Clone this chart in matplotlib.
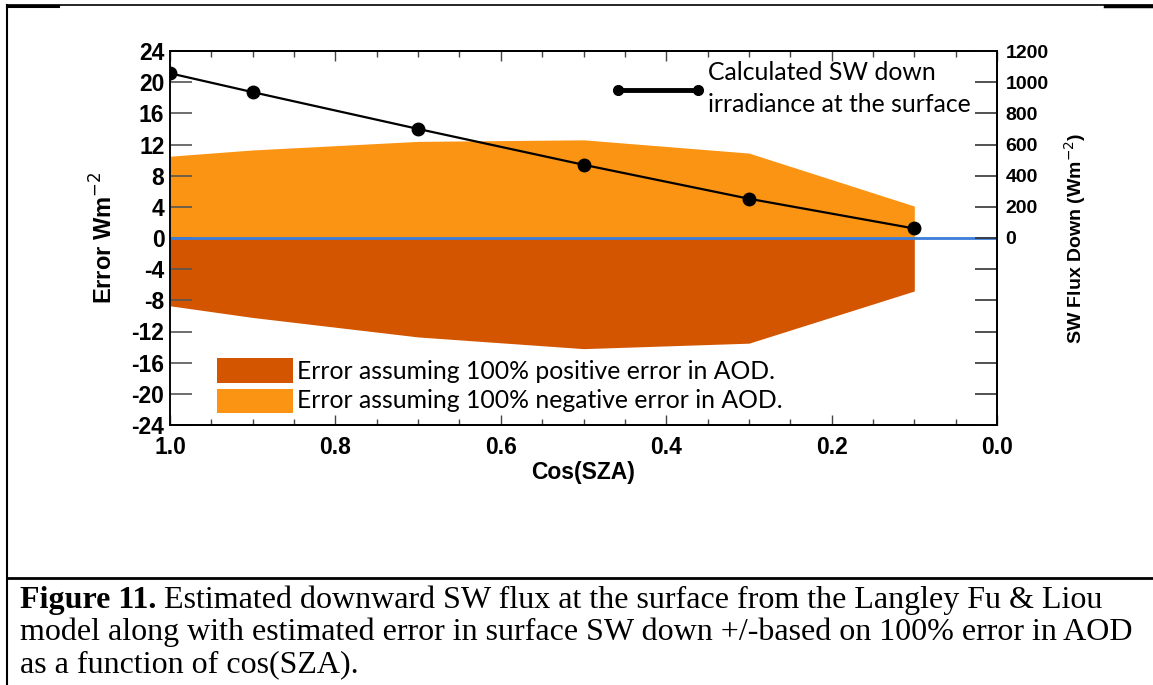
import matplotlib
matplotlib.use("Agg")
import matplotlib.pyplot as plt
from matplotlib.lines import Line2D
from matplotlib.patches import Rectangle
from matplotlib.ticker import MultipleLocator, FixedLocator

# ---- data -------------------------------------------------------------
cos_sza = [1.0, 0.9, 0.7, 0.5, 0.3, 0.1]
sw_down = [1057, 936, 700, 470, 252, 61]          # W m-2
err_neg_aod = [10.5, 11.3, 12.4, 12.6, 10.9, 4.1]  # error, -100% AOD
err_pos_aod = [-8.7, -10.2, -12.7, -14.2, -13.5, -6.8]  # error, +100% AOD

left_ticks = list(range(-24, 25, 4))
right_ticks = list(range(-1200, 1201, 200))

label_pos = "Error assuming 100% positive error in AOD."
label_neg = "Error assuming 100% negative error in AOD."
label_line = "Calculated SW down\nirradiance at the surface"
caption_bold = "Figure 11."
caption_rest = [
    " Estimated downward SW flux at the surface from the Langley Fu & Liou",
    "model along with estimated error in surface SW down +/-based on 100% error in AOD",
    "as a function of cos(SZA).",
]

ORANGE = "#FC9413"
DARK = "#D45500"
BLUE = "#3C7DD9"

W, H = 1153, 685
fig = plt.figure(figsize=(W / 100, H / 100), dpi=100)

def fx(px):
    return px / W

def fy(py):
    return 1 - py / H

# ---- main axes --------------------------------------------------------
ax = fig.add_axes([fx(170), fy(425), fx(997) - fx(170), fy(51) - fy(425)])
ax.fill_between(cos_sza, 0, err_neg_aod, color=ORANGE, lw=0, zorder=1)
ax.fill_between(cos_sza, 0, err_pos_aod, color=DARK, lw=0, zorder=1)
ax.axhline(0, color=BLUE, lw=2, zorder=2)
ax.set_xlim(1.0, 0.0)
ax.set_ylim(-24, 24)

tick_font = dict(family="Liberation Sans", weight="bold")
ax.xaxis.set_major_locator(FixedLocator([1.0, 0.8, 0.6, 0.4, 0.2, 0.0]))
ax.xaxis.set_minor_locator(MultipleLocator(0.05))
ax.set_xticklabels(["1.0", "0.8", "0.6", "0.4", "0.2", "0.0"], fontsize=16.5, **tick_font)
ax.tick_params(axis="x", which="major", direction="in", length=7, width=1,
               top=True, pad=8, color="#444444")
ax.tick_params(axis="x", which="minor", direction="in", length=4, width=1,
               top=True, color="#444444")
ax.set_yticks(left_ticks)
ax.set_yticklabels([str(t) for t in left_ticks], fontsize=16.5, **tick_font)
ax.tick_params(axis="y", direction="in", length=16, width=1.2, pad=4,
               color="#555555")
ax.spines["left"].set_color("#777777")
for s in ax.spines.values():
    s.set_linewidth(1.3)

ax.set_xlabel("Cos(SZA)", fontsize=16.5, labelpad=1, **tick_font)
ax.set_ylabel("Error Wm$^{-2}$", fontsize=17, labelpad=10, **tick_font)

# ---- right axis: SW flux ----------------------------------------------
ax2 = ax.twinx()
ax2.set_ylim(-1200, 1200)
ax2.plot(cos_sza, sw_down, color="black", lw=1.6, marker="o", ms=9, zorder=5)
ax2.set_yticks(right_ticks)
ax2.set_yticklabels([str(t) if t >= 0 else "" for t in right_ticks],
                    fontsize=14, **tick_font)
ax2.tick_params(axis="y", direction="in", length=16, width=1.2, pad=6,
                color="#333333")
ax2.set_ylabel("SW Flux Down (Wm$^{-2}$)", fontsize=14, labelpad=10,
               **tick_font)
for s in ax2.spines.values():
    s.set_linewidth(1.3)

# ---- legends ------------------------------------------------------------
leg_font = dict(family="Lato", fontsize=17.8)
fig.add_artist(Line2D([fx(618), fx(698)], [fy(90), fy(90)], color="black",
                      lw=3.5, marker="o", ms=7, markevery=[0, 1]))
fig.text(fx(708), fy(73), label_line.split("\n")[0], va="center", **leg_font)
fig.text(fx(708), fy(104), label_line.split("\n")[1], va="center", **leg_font)

fig.add_artist(Rectangle((fx(217), fy(383)), fx(293) - fx(217), fy(358) - fy(383),
                         transform=fig.transFigure, color=DARK, lw=0))
fig.add_artist(Rectangle((fx(217), fy(413)), fx(293) - fx(217), fy(389) - fy(413),
                         transform=fig.transFigure, color=ORANGE, lw=0))
fig.text(fx(297), fy(371), label_pos, va="center", **leg_font)
fig.text(fx(297), fy(401), label_neg, va="center", **leg_font)

# ---- frame and caption ------------------------------------------------
frame = dict(color="black", transform=fig.transFigure)
fig.add_artist(Line2D([fx(7), fx(7)], [fy(5), 0], lw=1.5, **frame))
fig.add_artist(Line2D([fx(7), fx(1153)], [fy(5), fy(5)], lw=1.2, **frame))
fig.add_artist(Line2D([fx(7), fx(58)], [fy(5.5), fy(5.5)], lw=2.2, **frame))
fig.add_artist(Line2D([fx(1105), fx(1153)], [fy(5.5), fy(5.5)], lw=2.5, **frame))
fig.add_artist(Line2D([fx(7), fx(1153)], [fy(578), fy(578)], lw=2, **frame))

cap_font = dict(family="Liberation Serif", fontsize=23)
t = fig.text(fx(20), fy(608), caption_bold, weight="bold", va="baseline", **cap_font)
fig.canvas.draw()
bb = t.get_window_extent()
fig.text(bb.x1 / fig.dpi / fig.get_figwidth(), fy(608), caption_rest[0],
         va="baseline", **cap_font)
fig.text(fx(20), fy(640), caption_rest[1], va="baseline", **cap_font)
fig.text(fx(20), fy(672), caption_rest[2], va="baseline", **cap_font)

fig.savefig("out.png", dpi=100)
